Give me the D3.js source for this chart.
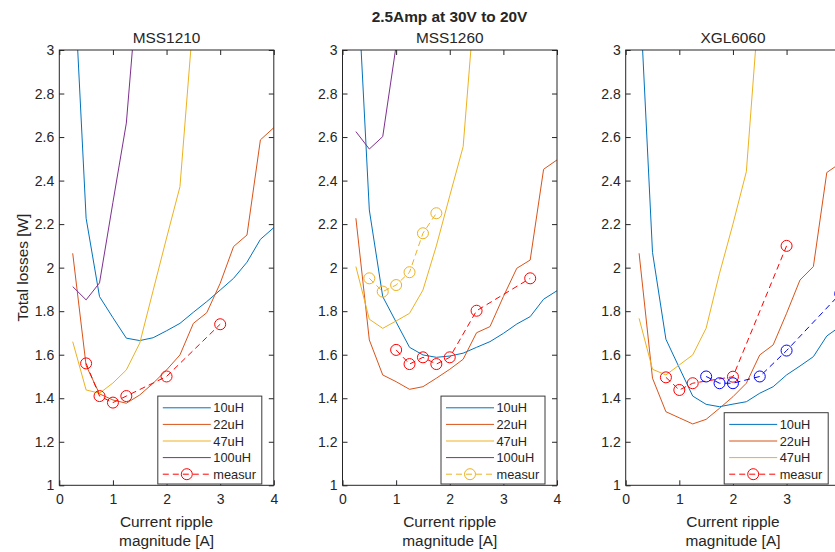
<html>
<head>
<style>
    body { margin: 0; background: #fff; }
    text { font-family: "Liberation Sans", Arial, sans-serif; fill: #262626; }
</style>
</head>
<body>
<script src="https://d3js.org/d3.v7.min.js"></script>
<script>
    // ripple magnitude [A] used by the simulated curves
    var ripple = [0.25, 0.5, 0.75, 1, 1.25, 1.5, 1.75, 2, 2.25, 2.5, 2.75, 3, 3.25, 3.5, 3.75, 4];

    // MSS1210 (null = off the chart, not read)
    var mss1210_10uH = [3.46, 2.227, 1.867, 1.77, 1.676, 1.665, 1.678, 1.71, 1.744, 1.795, 1.844, 1.897, 1.951, 2.025, 2.13, 2.184];
    var mss1210_22uH = [2.066, 1.55, 1.42, 1.392, 1.377, 1.415, 1.469, 1.53, 1.599, 1.744, 1.793, 1.928, 2.097, 2.15, 2.587, 2.643];
    var mss1210_47uH = [1.66, 1.438, 1.423, 1.47, 1.53, 1.653, 1.895, 2.136, 2.372, 3.15, null, null, null, null, null, null];
    var mss1210_100uH = [1.913, 1.852, 1.93, 2.3, 2.664, 3.41, null, null, null, null, null, null, null, null, null, null];
    var mss1210_measX = [0.5, 0.75, 1, 1.25, 2, 3];
    var mss1210_meas = [1.56, 1.41, 1.38, 1.41, 1.5, 1.74];

    // MSS1260
    var mss1260_10uH = [3.47, 2.265, 1.867, 1.75, 1.634, 1.599, 1.588, 1.594, 1.607, 1.634, 1.66, 1.698, 1.741, 1.775, 1.855, 1.894];
    var mss1260_22uH = [2.227, 1.668, 1.507, 1.476, 1.441, 1.453, 1.492, 1.533, 1.579, 1.701, 1.729, 1.867, 1.997, 2.035, 2.452, 2.495];
    var mss1260_47uH = [2.005, 1.763, 1.721, 1.755, 1.79, 1.897, 2.1, 2.33, 2.556, 3.33, null, null, null, null, null, null];
    var mss1260_100uH = [2.625, 2.545, 2.602, 3.02, 3.6, null, null, null, null, null, null, null, null, null, null, null];
    var mss1260_measAX = [0.5, 0.75, 1, 1.25, 1.5, 1.75];
    var mss1260_measA = [1.951, 1.89, 1.92, 1.979, 2.158, 2.25];
    var mss1260_measBX = [1, 1.25, 1.5, 1.75, 2, 2.5, 3.5];
    var mss1260_measB = [1.622, 1.557, 1.588, 1.557, 1.588, 1.802, 1.951];

    // XGL6060
    var xgl6060_10uH = [3.33, 2.07, 1.671, 1.54, 1.41, 1.372, 1.361, 1.373, 1.384, 1.423, 1.453, 1.507, 1.548, 1.591, 1.686, 1.73];
    var xgl6060_22uH = [2.066, 1.492, 1.338, 1.31, 1.282, 1.303, 1.354, 1.407, 1.469, 1.599, 1.645, 1.79, 1.943, 2.005, 2.437, 2.48];
    var xgl6060_47uH = [1.767, 1.533, 1.507, 1.553, 1.599, 1.722, 1.974, 2.2, 2.441, 3.26, null, null, null, null, null, null];
    var xgl6060_measAX = [0.75, 1, 1.25, 2, 3];
    var xgl6060_measA = [1.496, 1.438, 1.469, 1.499, 2.1];
    var xgl6060_measBX = [1.5, 1.75, 2, 2.5, 3, 4];
    var xgl6060_measB = [1.5, 1.469, 1.469, 1.5, 1.619, 1.88];

    var xTicks = [0, 1, 2, 3, 4];
    var yTicks = [1, 1.2, 1.4, 1.6, 1.8, 2, 2.2, 2.4, 2.6, 2.8, 3];
    var panelTitles = ['MSS1210', 'MSS1260', 'XGL6060'];

    // matlab default colours
    var c10 = '#0072BD', c22 = '#D95319', c47 = '#EDB120', c100 = '#7E2F8E';

    var panels = [
        {
            title: panelTitles[0],
            series: [
                { name: '10uH', values: mss1210_10uH, color: c10 },
                { name: '22uH', values: mss1210_22uH, color: c22 },
                { name: '47uH', values: mss1210_47uH, color: c47 },
                { name: '100uH', values: mss1210_100uH, color: c100 }
            ],
            measured: [{ xs: mss1210_measX, values: mss1210_meas, color: '#FF0000' }]
        },
        {
            title: panelTitles[1],
            series: [
                { name: '10uH', values: mss1260_10uH, color: c10 },
                { name: '22uH', values: mss1260_22uH, color: c22 },
                { name: '47uH', values: mss1260_47uH, color: c47 },
                { name: '100uH', values: mss1260_100uH, color: c100 }
            ],
            measured: [
                { xs: mss1260_measAX, values: mss1260_measA, color: c47 },
                { xs: mss1260_measBX, values: mss1260_measB, color: '#FF0000' }
            ]
        },
        {
            title: panelTitles[2],
            series: [
                { name: '10uH', values: xgl6060_10uH, color: c10 },
                { name: '22uH', values: xgl6060_22uH, color: c22 },
                { name: '47uH', values: xgl6060_47uH, color: c47 }
            ],
            measured: [
                { xs: xgl6060_measAX, values: xgl6060_measA, color: '#FF0000' },
                { xs: xgl6060_measBX, values: xgl6060_measB, color: '#0000FF' }
            ]
        }
    ];

    var plotW = 214.5, plotTop = 50, plotBottom = 485.3, plotH = plotBottom - plotTop,
        firstLeft = 59.3, panelStep = 283.2, axisColor = '#262626';

    var svg = d3.select('body').append('svg')
        .attr('width', 835)
        .attr('height', 552);

    var x = d3.scaleLinear().domain([0, 4]).range([0, plotW]);
    var y = d3.scaleLinear().domain([1, 3]).range([plotH, 0]);

    var line = d3.line()
        .defined(d => d[1] != null)
        .x(d => x(d[0]))
        .y(d => y(d[1]));

    // super title
    svg.append('text')
        .attr('x', 449.5).attr('y', 21.7)
        .attr('text-anchor', 'middle')
        .attr('font-size', 15.4).attr('font-weight', 'bold')
        .text('2.5Amp at 30V to 20V');

    // y label
    svg.append('text')
        .attr('transform', `translate(28,${plotTop + plotH / 2}) rotate(-90)`)
        .attr('text-anchor', 'middle')
        .attr('font-size', 15.4)
        .text('Total losses [W]');

    panels.forEach(function (p, i) {
        var left = firstLeft + i * panelStep;
        var g = svg.append('g').attr('transform', `translate(${left},${plotTop})`);

        svg.append('clipPath').attr('id', 'clip' + i)
            .append('rect').attr('width', plotW).attr('height', plotH);

        var plot = g.append('g').attr('clip-path', `url(#clip${i})`);

        // simulated curves
        p.series.forEach(function (s) {
            plot.append('path')
                .datum(d3.zip(ripple, s.values))
                .attr('d', line)
                .attr('fill', 'none')
                .attr('stroke', s.color)
                .attr('stroke-width', 1);
        });

        // measured points
        p.measured.forEach(function (m) {
            var pts = d3.zip(m.xs, m.values);
            plot.append('path')
                .datum(pts)
                .attr('d', line)
                .attr('fill', 'none')
                .attr('stroke', m.color)
                .attr('stroke-width', 1)
                .attr('stroke-dasharray', '6,4');
            plot.selectAll(null)
                .data(pts)
                .enter()
                .append('circle')
                .attr('cx', d => x(d[0]))
                .attr('cy', d => y(d[1]))
                .attr('r', 5.5)
                .attr('fill', 'none')
                .attr('stroke', m.color)
                .attr('stroke-width', 1);
        });

        // axes, ticks inside on all four sides
        var bottomAxis = g.append('g')
            .attr('transform', `translate(0,${plotH})`)
            .call(d3.axisBottom(x).tickValues(xTicks).tickSize(-5).tickPadding(9).tickFormat(d3.format('d')));
        var leftAxis = g.append('g')
            .call(d3.axisLeft(y).tickValues(yTicks).tickSize(-5).tickPadding(5).tickFormat(d3.format('.1~f')));
        var topAxis = g.append('g')
            .call(d3.axisTop(x).tickValues(xTicks).tickSize(-5).tickFormat(''));
        var rightAxis = g.append('g')
            .attr('transform', `translate(${plotW},0)`)
            .call(d3.axisRight(y).tickValues(yTicks).tickSize(-5).tickFormat(''));

        [bottomAxis, leftAxis, topAxis, rightAxis].forEach(function (a) {
            a.select('.domain').remove();
            a.attr('font-family', null).attr('font-size', 14);
            a.selectAll('line').attr('stroke', axisColor);
            a.selectAll('text').attr('fill', axisColor);
        });

        g.append('rect')
            .attr('width', plotW).attr('height', plotH)
            .attr('fill', 'none')
            .attr('stroke', axisColor)
            .attr('stroke-width', 1);

        // panel title
        g.append('text')
            .attr('x', plotW / 2).attr('y', -6.7)
            .attr('text-anchor', 'middle')
            .attr('font-size', 15.4)
            .text(p.title);

        // x label, two lines
        g.append('text')
            .attr('x', plotW / 2).attr('y', 526.5 - plotTop)
            .attr('text-anchor', 'middle')
            .attr('font-size', 15.4)
            .text('Current ripple');
        g.append('text')
            .attr('x', plotW / 2).attr('y', 546 - plotTop)
            .attr('text-anchor', 'middle')
            .attr('font-size', 15.4)
            .text('magnitude [A]');

        // legend (southeast)
        var entries = p.series.map(s => ({ name: s.name, color: s.color, meas: false }))
            .concat([{ name: 'measur', color: p.measured[0].color, meas: true }]);
        var rowH = 16.6, legW = 104,
            legH = 11 + (entries.length - 1) * rowH + 10.5,
            legX = plotW - 12 - legW,
            legY = plotH - 1.3 - legH;
        var leg = g.append('g').attr('transform', `translate(${legX},${legY})`);
        leg.append('rect')
            .attr('width', legW).attr('height', legH)
            .attr('fill', '#fff')
            .attr('stroke', '#3a3a3a')
            .attr('stroke-width', 1);
        var rows = leg.selectAll('g.row')
            .data(entries)
            .enter()
            .append('g').attr('class', 'row')
            .attr('transform', (d, j) => `translate(0,${11.7 + j * rowH})`);
        rows.append('line')
            .attr('x1', 5).attr('x2', 53)
            .attr('stroke', d => d.color)
            .attr('stroke-width', 1)
            .attr('stroke-dasharray', d => d.meas ? '6,4' : null);
        rows.filter(d => d.meas)
            .append('circle')
            .attr('cx', 29).attr('r', 5.5)
            .attr('fill', 'none')
            .attr('stroke', d => d.color);
        rows.append('text')
            .attr('x', 55.5).attr('dy', '0.36em')
            .attr('font-size', 12.8)
            .text(d => d.name);
    });
</script>
</body>
</html>
